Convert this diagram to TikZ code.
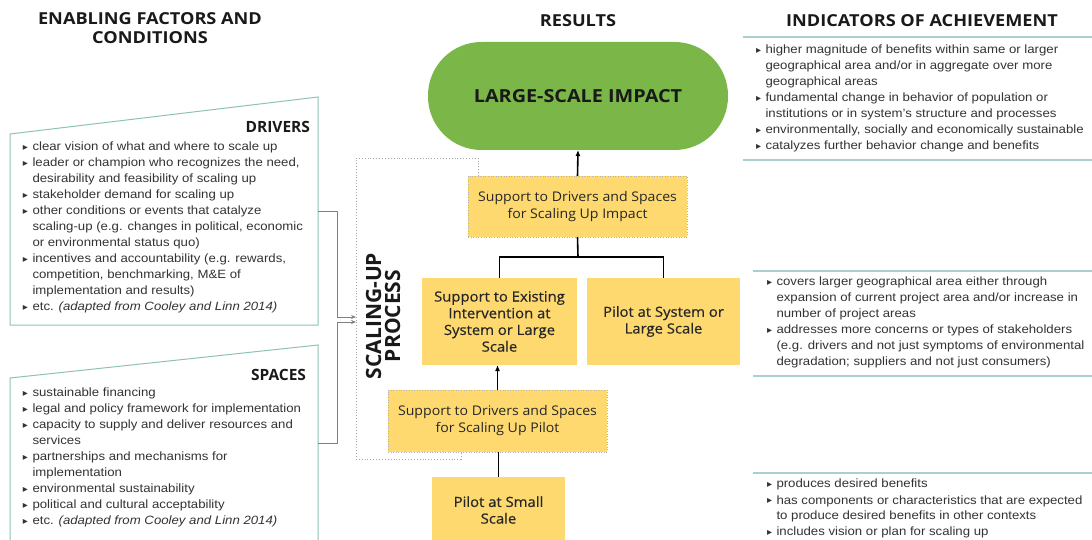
\documentclass[tikz,border=0pt]{standalone}
\usepackage{fontspec}
\setmainfont{Liberation Sans}[FakeStretch=1.1]
\newfontfamily\os{Open Sans}[FakeStretch=1.06]
\newfontfamily\osh{Open Sans}[FakeStretch=1.1]
\newfontfamily\osr{Open Sans}
\newfontfamily\osb{Open Sans}[FakeBold=0.5,FakeStretch=1.06]
\newfontfamily\dv{DejaVu Sans}
\usetikzlibrary{arrows.meta}
\definecolor{impgreen}{HTML}{7AB648}
\definecolor{ylw}{HTML}{FDD96F}
\definecolor{tealA}{HTML}{8FC0B8}
\definecolor{tealB}{HTML}{A9CFCF}
\definecolor{txt}{HTML}{333333}
\newlength\bw
\setlength\bw{9.5pt}
\newcommand\bu{\makebox[\bw][l]{\raisebox{0.3pt}{\dv\fontsize{10}{10}\selectfont ▸}}}
\newcommand\ind{\hspace*{\bw}}
\begin{document}
\begin{tikzpicture}[x=1pt,y=-1pt,
  every node/.style={inner sep=0pt, outer sep=0pt},
  head/.style={font=\osh\bfseries\fontsize{16.5}{18.5}\selectfont, align=center, text=black!90},
  sub/.style={font=\osr\bfseries\fontsize{15.5}{18}\selectfont, text=black!90},
  ybox/.style={fill=ylw, align=center, font=\os\fontsize{13.3}{17}\selectfont, text=black!85},
  ydot/.style={ybox, draw=gray!60, dotted, line width=0.6pt},
  ysolid/.style={ybox, font=\osb\fontsize{14}{16.7}\selectfont},
  blist/.style={anchor=north west, align=left, font=\fontsize{12}{16}\selectfont, text=txt},
  flow/.style={line width=1.6pt, black},
  arr/.style={flow, -{Latex[length=6pt,width=5pt]}},
  feed/.style={gray, line width=0.8pt, -{Stealth[length=5pt,width=4pt]}},
  frame/.style={tealA, line width=1pt},
  rule/.style={tealB, line width=1.3pt},
]
\useasboundingbox (0,0) rectangle (1092,540);

% headings
\node[head] (h1) at (150,28) {ENABLING FACTORS AND\\CONDITIONS};
\node[head] (h2) at (578,21) {RESULTS};
\node[head] (h3) at (922,21) {INDICATORS OF ACHIEVEMENT};

% drivers frame
\draw[frame] (10,134) -- (318,97) -- (318,325) -- (10,325) -- cycle;
\node[sub, anchor=east] (drv) at (310,127) {DRIVERS};
\node[blist] (drvlist) at (23,142.3) {%
\bu clear vision of what and where to scale up\\
\bu leader or champion who recognizes the need,\\
\ind desirability and feasibility of scaling up\\
\bu stakeholder demand for scaling up\\
\bu other conditions or events that catalyze\\
\ind scaling-up (e.g. changes in political, economic\\
\ind or environmental status quo)\\
\bu incentives and accountability (e.g. rewards,\\
\ind competition, benchmarking, M\&E of\\
\ind implementation and results)\\
\bu etc. \textit{(adapted from Cooley and Linn 2014)}};

% spaces frame
\draw[frame] (10,560) -- (10,378) -- (318,345) -- (318,560);
\node[sub, anchor=east] (spc) at (306,375) {SPACES};
\node[blist] (spclist) at (23,388.3) {%
\bu sustainable financing\\
\bu legal and policy framework for implementation\\
\bu capacity to supply and deliver resources and\\
\ind services\\
\bu partnerships and mechanisms for\\
\ind implementation\\
\bu environmental sustainability\\
\bu political and cultural acceptability\\
\bu etc. \textit{(adapted from Cooley and Linn 2014)}};

% scaling-up process region
\coordinate (pA) at (478,176);
\coordinate (pB) at (478,158);
\coordinate (pC) at (356,158);
\coordinate (pD) at (356,459);
\coordinate (pE) at (461,459);
\coordinate (pF) at (461,452);
\draw[gray!70, dotted, line width=0.9pt] (pA) -- (pB) -- (pC) -- (pD) -- (pE) -- (pF);
\node[head, rotate=90, font=\osr\bfseries\fontsize{21}{19}\selectfont] (proc) at (383,316) {SCALING-UP\\PROCESS};

% feeds from drivers and spaces
\coordinate (drout) at (318,211);
\coordinate (spout) at (318,443);
\coordinate (procin1) at (356,317);
\coordinate (procin2) at (356,322);
\draw[feed] (drout) -- ++(19,0) |- (procin1);
\draw[feed] (spout) -- ++(19,0) |- (procin2);

% results column
\node[fill=impgreen, rounded corners=53.5pt, minimum width=300pt, minimum height=108pt,
  font=\osh\bfseries\fontsize{18}{20}\selectfont, text=black!90] (impact) at (578,96) {LARGE-SCALE IMPACT};
\node[ydot, minimum width=219pt, minimum height=61pt] (supImp) at (577.5,206.5)
  {Support to Drivers and Spaces\\for Scaling Up Impact};
\node[ysolid, minimum width=155pt, minimum height=87pt] (exist) at (499.5,321.5)
  {Support to Existing\\Intervention at\\System or Large\\Scale};
\node[ysolid, minimum width=153pt, minimum height=87pt] (pilotSys) at (663.5,321.5)
  {Pilot at System or\\Large Scale};
\node[ydot, minimum width=219pt, minimum height=62pt] (supPil) at (497.5,421)
  {Support to Drivers and Spaces\\for Scaling Up Pilot};
\node[ysolid, minimum width=133pt, minimum height=66pt] (pilotSm) at (498.5,510)
  {Pilot at Small\\Scale};

\draw[arr] (supImp.north) -- (impact.south);
\coordinate (junc) at (578,257);
\draw[flow] (supImp.south) -- (junc);
\draw[flow] (exist.north) |- (junc) -| (pilotSys.north);
\draw[arr] (supPil.north) -- (supPil.north |- exist.south);
\draw[flow] (pilotSm.north) -- (pilotSm.north |- supPil.south);

% indicators column
\draw[rule] (743,37) -- (1092,37);
\draw[rule] (743,160) -- (1092,160);
\draw[rule] (753,271) -- (1092,271);
\draw[rule] (753,376) -- (1092,376);
\draw[rule] (753,473) -- (1092,473);
\node[blist] (ind1) at (756,45.3) {%
\bu higher magnitude of benefits within same or larger\\
\ind geographical area and/or in aggregate over more\\
\ind geographical areas\\
\bu fundamental change in behavior of population or\\
\ind institutions or in system's structure and processes\\
\bu environmentally, socially and economically sustainable\\
\bu catalyzes further behavior change and benefits};
\node[blist] (ind2) at (767,277.3) {%
\bu covers larger geographical area either through\\
\ind expansion of current project area and/or increase in\\
\ind number of project areas\\
\bu addresses more concerns or types of stakeholders\\
\ind (e.g. drivers and not just symptoms of environmental\\
\ind degradation; suppliers and not just consumers)};
\node[blist] (ind3) at (767,479.3) {%
\bu produces desired benefits\\
\bu has components or characteristics that are expected\\
\ind to produce desired benefits in other contexts\\
\bu includes vision or plan for scaling up};
\end{tikzpicture}
\end{document}
